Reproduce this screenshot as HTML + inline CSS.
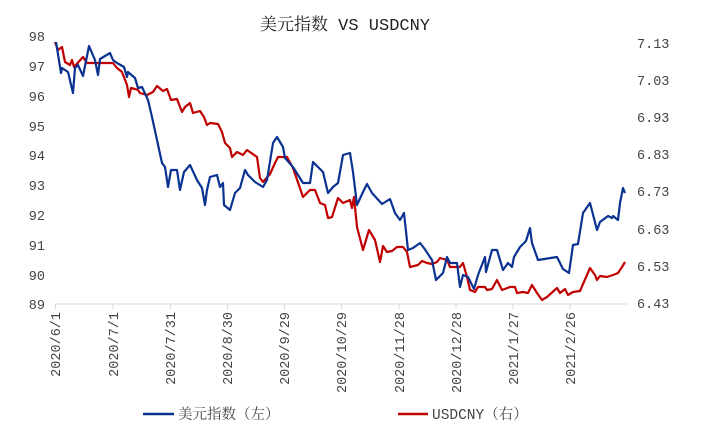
<!DOCTYPE html>
<html><head><meta charset="utf-8"><style>
body{margin:0;background:#fff;}
svg{display:block;}
text{font-family:"Liberation Mono","Noto Serif CJK SC",monospace;fill:#444;font-size:13.5px;}
.y{font-size:15px;}
</style></head><body>
<svg width="712" height="439" viewBox="0 0 712 439">
<text x="345" y="30" text-anchor="middle" style="font-size:17px;fill:#222;font-family:'Liberation Mono','Noto Serif CJK SC',monospace">美元指数 VS USDCNY</text>
<g text-anchor="end" class="y">
<text x="45" y="41">98</text><text x="45" y="71">97</text><text x="45" y="101">96</text><text x="45" y="131">95</text><text x="45" y="160">94</text><text x="45" y="190">93</text><text x="45" y="220">92</text><text x="45" y="250">91</text><text x="45" y="280">90</text><text x="45" y="309">89</text>
</g>
<g class="y">
<text x="637" y="48">7.13</text><text x="637" y="85">7.03</text><text x="637" y="122">6.93</text><text x="637" y="159">6.83</text><text x="637" y="196">6.73</text><text x="637" y="234">6.63</text><text x="637" y="271">6.53</text><text x="637" y="308">6.43</text>
</g>
<line x1="55" y1="304" x2="627" y2="304" stroke="#d9d9d9" stroke-width="1"/>
<g stroke="#d9d9d9">
<line x1="55.5" y1="304" x2="55.5" y2="309"/><line x1="113" y1="304" x2="113" y2="309"/><line x1="170.5" y1="304" x2="170.5" y2="309"/><line x1="227.5" y1="304" x2="227.5" y2="309"/><line x1="284.5" y1="304" x2="284.5" y2="309"/><line x1="341.5" y1="304" x2="341.5" y2="309"/><line x1="399" y1="304" x2="399" y2="309"/><line x1="456" y1="304" x2="456" y2="309"/><line x1="513" y1="304" x2="513" y2="309"/><line x1="570" y1="304" x2="570" y2="309"/>
</g>
<g text-anchor="end">
<text transform="translate(60,312) rotate(-90)">2020/6/1</text>
<text transform="translate(118,312) rotate(-90)">2020/7/1</text>
<text transform="translate(175,312) rotate(-90)">2020/7/31</text>
<text transform="translate(232,312) rotate(-90)">2020/8/30</text>
<text transform="translate(289,312) rotate(-90)">2020/9/29</text>
<text transform="translate(346,312) rotate(-90)">2020/10/29</text>
<text transform="translate(404,312) rotate(-90)">2020/11/28</text>
<text transform="translate(461,312) rotate(-90)">2020/12/28</text>
<text transform="translate(518,312) rotate(-90)">2021/1/27</text>
<text transform="translate(575,312) rotate(-90)">2021/2/26</text>
</g>
<polyline fill="none" stroke="#c00000" stroke-width="2.2" stroke-linejoin="round" points="55,42 58,50 62,47 65,62 70,65 72,60 74,67 83,57 87,63 100,63 113,63 117,68 122,72 127,85 129,97 131,88 135,89 138,90 140,93 147,95 153,92 157,86 163,91 167,89 171,100 177,99 182,112 185,107 190,103 193,113 200,111 204,117 207,125 210,123 218,124 222,132 225,143 230,148 232,157 237,152 243,155 247,150 257,157 260,178 263,182 270,174 275,163 278,157 287,157 293,168 303,197 310,190 315,190 320,203 325,205 328,218 332,217 338,198 343,203 350,200 352,208 354,197 357,227 363,250 369,230 375,240 380,262 383,246 387,252 392,251 397,247 403,247 407,252 410,267 418,265 422,261 427,263 432,264 437,262 440,258 447,260 450,267 460,267 463,263 467,277 470,290 475,292 478,287 485,287 487,290 492,289 497,280 502,290 510,287 515,287 517,293 523,292 528,293 532,285 537,293 542,300 547,297 557,288 560,293 565,289 568,295 573,292 580,291 590,268 595,275 597,280 600,276 607,277 613,275 618,273 622,267 625,262"/>
<polyline fill="none" stroke="#0a3291" stroke-width="2.2" stroke-linejoin="round" points="56,42 61,73 62,68 68,72 73,93 75,68 78,65 83,76 89,46 95,60 98,75 100,59 110,53 113,60 117,63 124,67 127,77 128,72 135,78 138,88 142,87 148,100 152,117 157,140 162,163 165,167 168,187 171,170 177,170 180,190 184,172 190,165 197,180 202,188 205,205 207,190 210,177 217,175 220,187 223,183 224,205 230,210 235,193 240,188 245,170 248,175 255,182 263,187 267,180 273,143 277,137 283,147 285,158 293,167 303,183 310,183 313,162 318,167 323,172 328,193 333,187 338,183 343,155 350,153 353,172 357,205 363,192 367,184 372,193 382,204 390,199 395,213 400,220 404,213 408,250 413,248 420,243 424,248 432,260 436,280 443,273 447,257 450,263 457,263 460,287 463,275 468,277 474,289 478,275 485,257 486,272 492,250 497,250 503,270 508,263 512,267 514,257 520,247 526,241 530,228 532,243 538,260 557,257 563,269 569,273 573,245 578,244 583,213 590,203 597,230 600,222 608,216 612,218 613,216 618,220 620,203 623,188 625,193"/>
<line x1="143" y1="414" x2="174" y2="414" stroke="#0a3291" stroke-width="2.5"/>
<text x="178" y="419" style="font-size:14.5px">美元指数（左）</text>
<line x1="398" y1="414" x2="428" y2="414" stroke="#c00000" stroke-width="2.5"/>
<text x="432" y="419" style="font-size:14.5px">USDCNY（右）</text>
</svg>
</body></html>
